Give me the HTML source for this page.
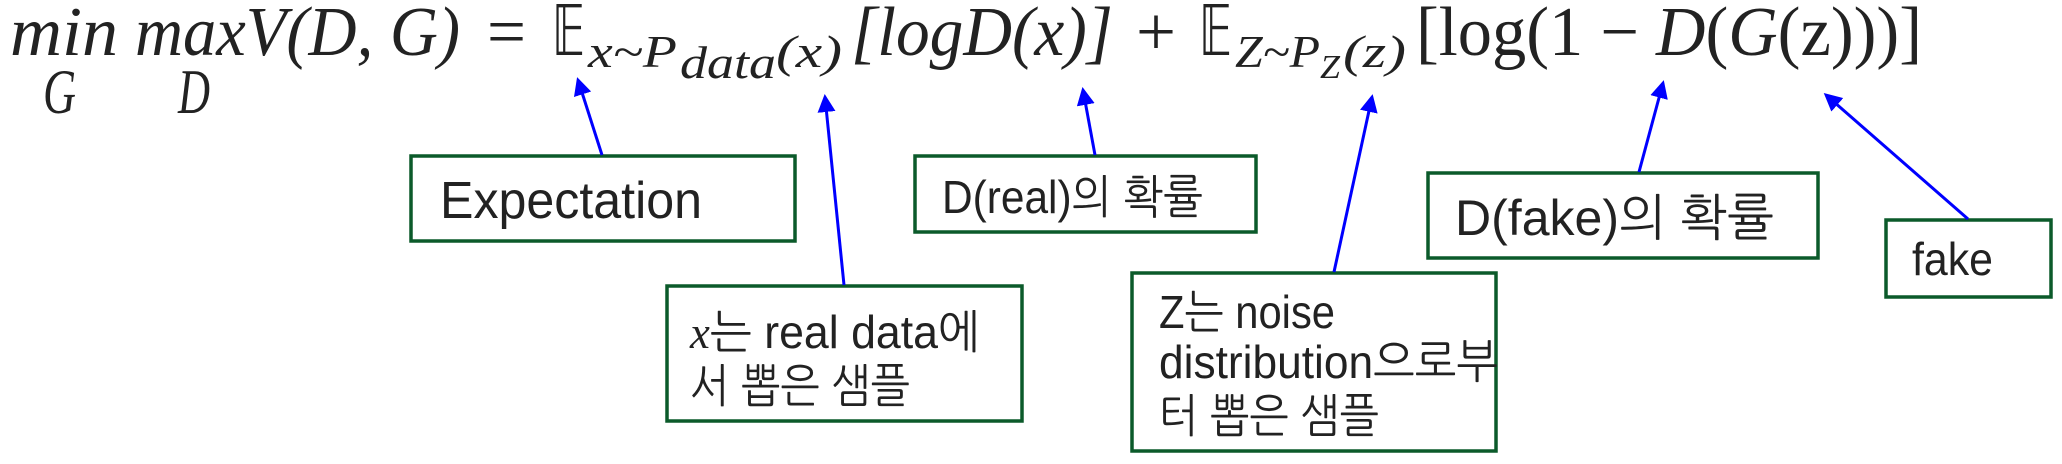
<!DOCTYPE html>
<html><head><meta charset="utf-8"><style>
html,body{margin:0;padding:0;background:#fff;}
svg{display:block;}
.m{font-family:"Liberation Serif",serif;font-style:italic;fill:#222;}
.r{font-family:"Liberation Serif",serif;fill:#222;}
.t{font-family:"Liberation Sans","NanumGothic","Noto Sans CJK KR",sans-serif;fill:#222;}
</style></head><body>
<svg width="2062" height="464" viewBox="0 0 2062 464" xmlns="http://www.w3.org/2000/svg">
<defs><marker id="a" markerWidth="6" markerHeight="6" refX="5" refY="3" orient="auto" markerUnits="strokeWidth">
<path d="M0,0 L6,3 L0,6 z" fill="#0000ff"/></marker></defs>
<!-- formula -->
<text class="m" x="10" y="55" font-size="70" textLength="108" lengthAdjust="spacingAndGlyphs">min</text>
<text class="m" x="135" y="55" font-size="70" textLength="325" lengthAdjust="spacingAndGlyphs">maxV(D, G)</text>
<text class="r" x="487" y="55" font-size="70" textLength="39" lengthAdjust="spacingAndGlyphs">=</text>
<text class="r" x="552" y="55" font-size="70" textLength="33" lengthAdjust="spacingAndGlyphs">𝔼</text>
<text class="m" x="588" y="67" font-size="46" textLength="89" lengthAdjust="spacingAndGlyphs">x~P</text>
<text class="m" x="680" y="78" font-size="46" textLength="96" lengthAdjust="spacingAndGlyphs">data</text>
<text class="m" x="776" y="67" font-size="46" textLength="66" lengthAdjust="spacingAndGlyphs">(x)</text>
<text class="m" x="851" y="55" font-size="70" textLength="262" lengthAdjust="spacingAndGlyphs">[logD(x)]</text>
<text class="r" x="1136" y="55" font-size="70" textLength="40" lengthAdjust="spacingAndGlyphs">+</text>
<text class="r" x="1199" y="55" font-size="70" textLength="33" lengthAdjust="spacingAndGlyphs">𝔼</text>
<text class="m" x="1235" y="67" font-size="46" textLength="85" lengthAdjust="spacingAndGlyphs">Z~P</text>
<text class="m" x="1320" y="78" font-size="34" textLength="20" lengthAdjust="spacingAndGlyphs">Z</text>
<text class="m" x="1343" y="67" font-size="46" textLength="63" lengthAdjust="spacingAndGlyphs">(z)</text>
<text class="r" x="1416" y="55" font-size="70" textLength="506" lengthAdjust="spacingAndGlyphs">[log(1 − <tspan font-style="italic">D</tspan>(<tspan font-style="italic">G</tspan>(z)))]</text>
<text class="m" x="43" y="113" font-size="64" textLength="33" lengthAdjust="spacingAndGlyphs">G</text>
<text class="m" x="178" y="113" font-size="64" textLength="32" lengthAdjust="spacingAndGlyphs">D</text>
<!-- boxes -->
<g fill="none" stroke="#0b5a2a" stroke-width="3.5">
<rect x="411" y="156" width="384" height="85"/>
<rect x="667" y="286" width="355" height="135"/>
<rect x="915" y="156" width="341" height="76"/>
<rect x="1132" y="273" width="364" height="178"/>
<rect x="1428" y="173" width="390" height="85"/>
<rect x="1886" y="220" width="165" height="77"/>
</g>
<text class="t" x="440" y="218" font-size="52" textLength="262" lengthAdjust="spacingAndGlyphs">Expectation</text>
<text class="t" x="690" y="348" font-size="46" textLength="290" lengthAdjust="spacingAndGlyphs"><tspan font-family="Liberation Serif" font-style="italic">x</tspan>는 real data에</text>
<text class="t" x="690" y="402" font-size="46" textLength="220" lengthAdjust="spacingAndGlyphs">서 뽑은 샘플</text>
<text class="t" x="942" y="213" font-size="46" textLength="261" lengthAdjust="spacingAndGlyphs">D(real)의 확률</text>
<text class="t" x="1159" y="328" font-size="46" textLength="176" lengthAdjust="spacingAndGlyphs">Z는 noise</text>
<text class="t" x="1159" y="378" font-size="46" textLength="339" lengthAdjust="spacingAndGlyphs">distribution으로부</text>
<text class="t" x="1159" y="432" font-size="46" textLength="220" lengthAdjust="spacingAndGlyphs">터 뽑은 샘플</text>
<text class="t" x="1455" y="235" font-size="50" textLength="319" lengthAdjust="spacingAndGlyphs">D(fake)의 확률</text>
<text class="t" x="1912" y="275" font-size="46" textLength="81" lengthAdjust="spacingAndGlyphs">fake</text>
<!-- arrows -->
<g stroke="#0000ff" stroke-width="3" marker-end="url(#a)">
<line x1="602" y1="155" x2="578" y2="80"/>
<line x1="844" y1="285" x2="825" y2="97"/>
<line x1="1095" y1="155" x2="1083" y2="90"/>
<line x1="1334" y1="272" x2="1372" y2="97"/>
<line x1="1639" y1="172" x2="1663" y2="83"/>
<line x1="1968" y1="219" x2="1826" y2="95"/>
</g>
</svg>
</body></html>
